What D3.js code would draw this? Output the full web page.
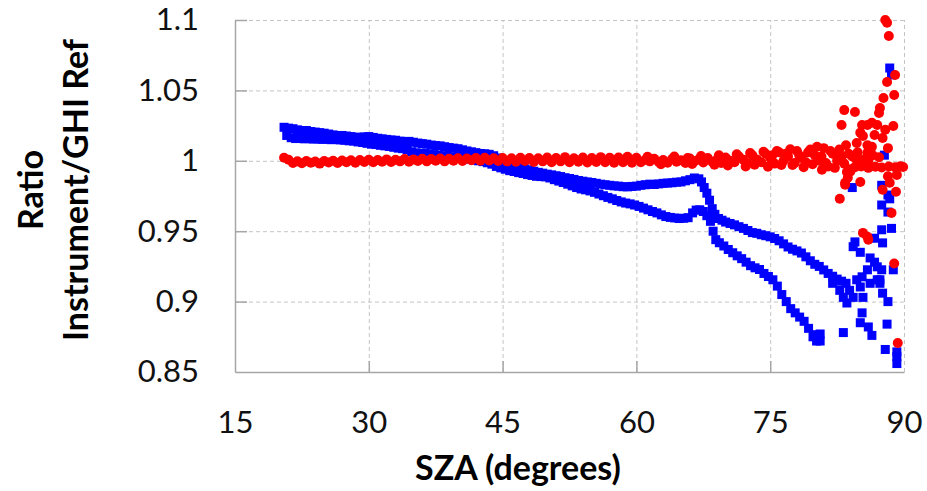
<!DOCTYPE html>
<html>
<head>
<meta charset="utf-8">
<script src="https://cdn.jsdelivr.net/npm/d3@7"></script>
<style>
  body { margin: 0; background: #fff; }
  svg { display: block; }
  .tick text { font-family: Lato, "Liberation Sans", sans-serif; font-size: 31px; fill: #111; }
  .axis-title { font-family: Lato, "Liberation Sans", sans-serif; font-weight: bold; font-size: 34px; fill: #000; }
</style>
</head>
<body>
<div id="chart"></div>
<script>
// tick values
const xTicks = [15, 30, 45, 60, 75, 90];
const yTicks = [0.85, 0.9, 0.95, 1, 1.05, 1.1];

// blue branch that starts higher (sza, ratio)
const blueUpper = [
  [20.5,1.0238],[21,1.0232],[21.5,1.0228],[22,1.022],[22.5,1.0214],[23,1.0215],[23.5,1.0208],[24,1.0204],
  [24.5,1.02],[25,1.0196],[25.5,1.019],[26,1.0184],[26.5,1.0178],[27,1.018],[27.5,1.0176],[28,1.0172],
  [28.5,1.0168],[29,1.0166],[29.5,1.017],[30,1.0172],[30.5,1.0166],[31,1.016],[31.5,1.0156],[32,1.0152],
  [32.5,1.0148],[33,1.0146],[33.5,1.014],[34,1.0136],[34.5,1.0138],[35,1.0132],[35.5,1.0126],[36,1.0122],
  [36.5,1.0118],[37,1.0112],[37.5,1.0108],[38,1.0106],[38.5,1.01],[39,1.0094],[39.5,1.009],[40,1.0086],
  [40.5,1.0078],[41,1.007],[41.5,1.0064],[42,1.0058],[42.5,1.0052],[43,1.005],[43.5,1.0046],[44,1.0036],
  [44.5,1.002],[45,0.9998],[45.5,0.998],[46,0.9968],[46.5,0.9958],[47,0.995],[47.5,0.9942],[48,0.9935],
  [48.5,0.9926],[49,0.9918],[49.5,0.9912],[50,0.9905],[50.5,0.99],[51,0.9894],[51.5,0.9888],[52,0.988],
  [52.5,0.9874],[53,0.9868],[53.5,0.986],[54,0.9855],[54.5,0.985],[55,0.9846],[55.5,0.984],[56,0.9834],
  [56.5,0.983],[57,0.9826],[57.5,0.9822],[58,0.982],[58.5,0.9816],[59,0.9815],[59.5,0.9818],[60,0.982],
  [60.5,0.9826],[61,0.983],[61.5,0.9834],[62,0.9832],[62.5,0.9836],[63,0.984],[63.5,0.9842],[64,0.9844],
  [64.5,0.9848],[65,0.985],[65.5,0.9858],[66,0.9866],[66.5,0.9878],[67,0.9872],[67.3,0.985],[67.6,0.981],
  [67.9,0.977],[68.2,0.972],[68.5,0.966],[68.8,0.962],[69.2,0.959],[69.6,0.9578],[70,0.9565],[70.5,0.9555],
  [71,0.9545],[71.5,0.9532],[72,0.952],[72.5,0.9505],[73,0.949],[73.5,0.9485],[74,0.9475],[74.5,0.9468],
  [75,0.946],[75.5,0.9448],[76,0.9432],[76.5,0.941],[77,0.9388],[77.5,0.9372],[78,0.936],[78.5,0.9345],
  [79,0.9318],[79.5,0.929],[80,0.9265],[80.5,0.925],[81,0.9225],[81.5,0.92],[82,0.918],[82.5,0.916],
  [83,0.9145],[83.5,0.913]
];

// blue branch that starts lower
const blueLower = [
  [20.8,1.018],[21.3,1.0164],[21.8,1.0158],[22.3,1.016],[22.8,1.0156],[23.3,1.0158],[23.8,1.0154],[24.3,1.0156],
  [24.8,1.0152],[25.3,1.0155],[25.8,1.015],[26.3,1.0152],[26.8,1.0148],[27.3,1.0146],[27.8,1.0142],[28.3,1.014],
  [28.8,1.0134],[29.3,1.013],[29.8,1.0124],[30.3,1.0118],[30.8,1.0116],[31.3,1.011],[31.8,1.0106],[32.3,1.0102],
  [32.8,1.0096],[33.3,1.009],[33.8,1.0086],[34.3,1.0078],[34.8,1.0064],[35.3,1.0056],[35.8,1.0054],[36.3,1.0052],
  [36.8,1.0048],[37.3,1.0044],[37.8,1.004],[38.3,1.0036],[38.8,1.0032],[39.3,1.0028],[39.8,1.0024],[40.3,1.002],
  [40.8,1.0016],[41.3,1.0012],[41.8,1.0006],[42.3,1.0],[42.8,0.9994],[43.3,0.9986],[43.8,0.9976],[44.3,0.996],
  [44.8,0.995],[45.3,0.994],[45.8,0.993],[46.3,0.9924],[46.8,0.9916],[47.3,0.991],[47.8,0.9902],[48.3,0.9896],
  [48.8,0.989],[49.3,0.9888],[49.8,0.9886],[50.3,0.9878],[50.8,0.9866],[51.3,0.9856],[51.8,0.9846],[52.3,0.9834],
  [52.8,0.9822],[53.3,0.981],[53.8,0.98],[54.3,0.9794],[54.8,0.9786],[55.3,0.9776],[55.8,0.9764],[56.3,0.9752],
  [56.8,0.974],[57.3,0.973],[57.8,0.9718],[58.3,0.9708],[58.8,0.97],[59.3,0.9694],[59.8,0.9686],[60.3,0.9676],
  [60.8,0.9664],[61.3,0.9652],[61.8,0.964],[62.3,0.963],[62.8,0.9616],[63.3,0.9604],[63.8,0.9598],[64.3,0.9594],
  [64.8,0.959],[65.3,0.9592],[65.8,0.9596],[66.3,0.963],[66.7,0.965],[67.1,0.9652],[67.5,0.964],[67.9,0.961],
  [68.3,0.957],[68.6,0.95],[68.9,0.944],[69.3,0.9418],[69.8,0.9395],[70.3,0.937],[70.8,0.9347],[71.3,0.9325],
  [71.8,0.9305],[72.3,0.928],[72.8,0.9255],[73.3,0.924],[73.8,0.9228],[74.3,0.92],[74.8,0.9178],[75.3,0.9155],
  [75.8,0.911],[76.3,0.905],[76.8,0.9],[77.3,0.895],[77.8,0.892],[78.3,0.889],[78.8,0.886],[79.3,0.881],
  [79.8,0.875],[80.2,0.872],[80.6,0.872],[80.6,0.877],[79.9,0.8765]
];

// blue points scattered at large angles
const blueScatter = [
  [82,0.913],[82.8,0.908],[83.2,0.903],[83.6,0.899],[83.9,0.908],[84.3,0.903],[84.7,0.9155],[85.1,0.9104],
  [85.3,0.9176],[85.4,0.903],[85.9,0.9226],[86.2,0.913],[87,0.9155],[87.3,0.913],[87.5,0.9226],[84.3,0.939],
  [84.5,0.9424],[85.1,0.935],[86.2,0.931],[86.7,0.928],[87,0.9247],[86.7,0.945],[87.6,0.9417],[87.5,0.951],
  [88.6,0.952],[88.8,0.9226],[87.3,0.9155],[87.6,0.906],[88.2,0.9],[84.2,0.981],[87.5,0.9826],[88.2,0.9757],
  [88.4,0.973],[87.5,0.9686],[88.2,0.9636],[88.4,1.0659],[88.6,1.061],[87.8,1.004],[85.3,0.892],[85.1,0.885],
  [86,0.882],[86.4,0.876],[88.1,0.884],[83.2,0.878],[87.9,0.866],[89.2,0.861],[89.2,0.856],[89.2,0.8643]
];

// red series, main band
const redMain = [
  [20.5,1.0022],[21,1.0008],[21.5,0.9985],[22,0.9996],[22.5,0.9982],[23,0.9998],[23.5,0.9986],[24,0.9995],
  [24.5,0.998],[25,0.9998],[25.5,0.9988],[26,1.0],[26.5,0.9984],[27,1.0002],[27.5,0.999],[28,1.0004],
  [28.5,0.9986],[29,1.0006],[29.5,0.9992],[30,1.0008],[30.5,0.999],[31,1.0006],[31.5,0.9994],[32,1.001],
  [32.5,0.9992],[33,1.0008],[33.5,0.9996],[34,1.0012],[34.5,0.9994],[35,1.001],[35.5,0.9998],[36,1.0014],
  [36.5,0.9996],[37,1.0012],[37.5,1.0],[38,1.0016],[38.5,0.9996],[39,1.0014],[39.5,1.0],[40,1.0018],
  [40.5,0.9998],[41,1.0016],[41.5,1.0004],[42,1.002],[42.5,1.0],[43,1.0022],[43.5,1.0002],[44,1.0018],
  [44.5,0.9998],[45,1.002],[45.5,0.9996],[46,1.0018],[46.5,0.9994],[47,1.0022],[47.5,0.9998],[48,1.002],
  [48.5,0.9992],[49,1.0018],[49.5,0.9996],[50,1.0024],[50.5,0.999],[51,1.002],[51.5,0.9996],[52,1.0026],
  [52.5,0.999],[53,1.0018],[53.5,0.9994],[54,1.0024],[54.5,0.9988],[55,1.002],[55.5,0.9992],[56,1.0026],
  [56.5,0.999],[57,1.0022],[57.5,0.9986],[58,1.0024],[58.5,0.999],[59,1.0028],[59.5,0.9986],[60,1.0022],
  [60.5,0.999],[61,1.0008],[61.5,0.9996],[62,1.0014],[62.5,0.9992],[63,1.0006],[63.5,0.9986],[64,1.0012],
  [64.5,0.9994],[65,1.0004],[65.5,0.9984],[66,1.0016],[66.5,0.9996],[67,1.001],[67.5,0.9988],[68,1.002],
  [68.5,0.9994],[69,1.0006],[69.5,0.9984],[70,1.0024],[70.5,1.0],[71,0.999],[71.5,1.003],[72,1.0008],
  [72.5,0.9982],[73,1.004],[73.5,1.001],[74,0.999],[74.5,1.005],[75,1.002],[75.5,0.998],[76,1.006],
  [76.5,1.0],[77,1.003],[77.5,0.997],[78,1.007],[78.5,1.002],[79,0.999],[79.5,1.008],[80,1.004],
  [80.5,1.0],[81,1.009],[81.5,0.996],[82,1.005],[82.5,1.0]
];

// red extra points where the band widens
const redSpread = [
  [61.25,1.0028],[62.75,0.9976],[64.25,1.003],[65.75,1.002],[66.25,0.9978],[67.25,1.0034],[68.75,0.9972],
  [69.25,1.004],[70.25,0.9966],[71.25,1.0046],[72.25,0.996],[72.75,1.0056],[73.25,0.9972],[74.25,1.0064],
  [74.75,0.9958],[75.25,1.004],[75.75,1.007],[76.25,0.997],[76.75,1.005],[77.25,1.0082],[77.75,0.9985],
  [78.25,1.004],[78.75,0.9955],[79.25,1.006],[79.75,0.9975],[80.25,1.01],[80.75,1.003],[81.25,0.9985],
  [81.75,1.007],[82.25,0.995],[82.75,1.008],[83,1.003],[83.3,0.998],[83.5,1.011],[83.8,1.005],[84,0.994],
  [84.2,1.003],[84.6,1.0015],[85.5,1.001],[86.5,1.004],[87.2,1.0025],[86,1.0]
];

// red points scattered at large angles
const redScatter = [
  [83.3,1.036],[84.5,1.0347],[83,1.0254],[85.3,1.0254],[85.9,1.0254],[86.4,1.027],[87,1.0254],[87.9,1.022],
  [88.8,1.0247],[85.1,1.02],[85.4,1.0176],[86.7,1.0183],[87.6,1.0162],[84.7,1.0126],[85.9,1.011],[86.4,1.0099],
  [84.8,1.006],[85.9,1.0057],[88.2,1.009],[87.9,1.1],[88.1,1.098],[88.3,1.0886],[89,1.061],[88.1,1.056],
  [87.7,1.0446],[88.9,1.0467],[87.3,1.0375],[87.2,1.034],[83.4,0.9844],[85.1,0.985],[88.2,0.989],[89.2,0.99],
  [89.9,0.9956],[80.8,0.9936],[83.4,0.983],[83.7,0.988],[82.8,0.973],[87.6,0.9794],[88.4,0.9844],[89.1,0.978],
  [88.6,0.963],[85.4,0.9488],[85.9,0.946],[86,0.944],[88.9,0.927],[89.3,0.8706],[84.5,0.9955],[85.2,0.996],
  [86,0.995],[86.8,0.9958],[87.5,0.9952],[88.3,0.996],[89,0.9955],[89.6,0.9962],[84,0.9925],[83.6,0.992]
];

const colors = { blue: "#0000ff", red: "#ff0000", grid: "#c4c4c4", axis: "#a6a6a6" };

const W = 927, H = 491;
const margin = {top: 20, right: 23, bottom: 119, left: 235};
const width = W - margin.left - margin.right;
const height = H - margin.top - margin.bottom;

const svg = d3.select("#chart").append("svg")
  .attr("width", W).attr("height", H);
const g = svg.append("g").attr("transform", `translate(${margin.left},${margin.top})`);

const x = d3.scaleLinear().domain([15, 90]).range([0, width]);
const y = d3.scaleLinear().domain([0.85, 1.1]).range([height, 0]);

// dashed grid
g.append("g").attr("class", "grid")
  .call(d3.axisLeft(y).tickValues(yTicks.filter(v => v > 0.85)).tickSize(-width).tickFormat(""))
  .call(s => s.select(".domain").remove())
  .selectAll("line").attr("stroke", colors.grid).attr("stroke-dasharray", "4,3");
g.append("g").attr("class", "grid")
  .attr("transform", `translate(0,${height})`)
  .call(d3.axisBottom(x).tickValues(xTicks.filter(v => v > 15)).tickSize(height).tickFormat(""))
  .call(s => s.select(".domain").remove())
  .selectAll("line").attr("stroke", colors.grid).attr("stroke-dasharray", "4,3")
  .attr("y2", -height);

// axes, ticks point inward
const yAxis = g.append("g")
  .call(d3.axisLeft(y).tickValues(yTicks).tickSizeInner(-12).tickSizeOuter(0).tickPadding(36)
    .tickFormat(d3.format("")));
const xAxis = g.append("g")
  .attr("transform", `translate(0,${height})`)
  .call(d3.axisBottom(x).tickValues(xTicks).tickSizeInner(-11).tickSizeOuter(0).tickPadding(39));
[yAxis, xAxis].forEach(a => {
  a.select(".domain").attr("stroke", colors.axis).attr("stroke-width", 1.5);
  a.selectAll(".tick line").attr("stroke", colors.axis).attr("stroke-width", 1.5);
});
yAxis.selectAll(".tick line").filter(d => d === 0.85).remove();
xAxis.selectAll(".tick line").filter(d => d === 15 || d === 90).remove();

// markers: blue squares first, red circles on top
const sq = 9;
[blueUpper, blueLower, blueScatter].forEach(series => {
  g.append("g").selectAll("rect").data(series).enter().append("rect")
    .attr("x", d => x(d[0]) - sq / 2)
    .attr("y", d => y(d[1]) - sq / 2)
    .attr("width", sq).attr("height", sq)
    .attr("fill", colors.blue);
});
[redMain, redSpread, redScatter].forEach(series => {
  g.append("g").selectAll("circle").data(series).enter().append("circle")
    .attr("cx", d => x(d[0]))
    .attr("cy", d => y(d[1]))
    .attr("r", 5)
    .attr("fill", colors.red);
});

// axis titles
svg.append("text").attr("class", "axis-title")
  .attr("x", 518).attr("y", 480)
  .attr("text-anchor", "middle")
  .text("SZA (degrees)");
svg.append("text").attr("class", "axis-title")
  .attr("transform", "translate(43,190) rotate(-90)")
  .attr("text-anchor", "middle")
  .text("Ratio");
svg.append("text").attr("class", "axis-title")
  .attr("transform", "translate(88,190) rotate(-90)")
  .attr("text-anchor", "middle")
  .text("Instrument/GHI Ref");
</script>
</body>
</html>
